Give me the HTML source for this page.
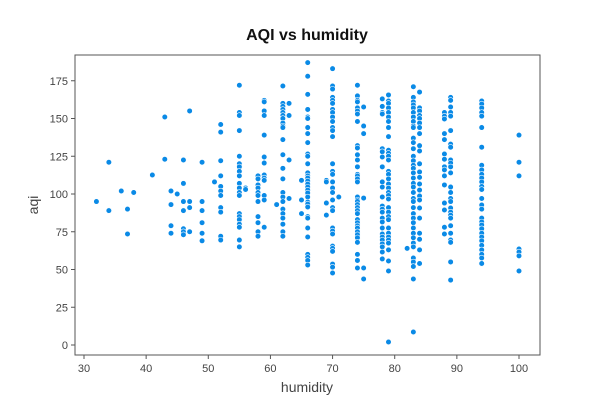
<!DOCTYPE html>
<html><head><meta charset="utf-8"><style>
body{margin:0;background:#fff;}
svg text{font-family:"Liberation Sans",sans-serif;}
</style></head><body>
<svg id="chart" width="600" height="400">
<rect width="600" height="400" fill="#fff"/>
<text x="307" y="40" text-anchor="middle" font-size="16" font-weight="bold" fill="#111">AQI vs humidity</text>
<text x="307" y="392" text-anchor="middle" font-size="14" fill="#444">humidity</text>
<text x="38" y="205" text-anchor="middle" font-size="14" fill="#444" transform="rotate(-90 38 205)">aqi</text>
<g id="grid"></g>
<g id="points"></g>
</svg>
<script>
const humLevels = [32,34,36,37,38,41,43,44,45,46,47,49,51,52,55,56,58,59,61,62,63,65,66,69,70,71,74,75,78,79,82,83,84,88,89,94,100];
const aqiByHum = [
[95],[121,89],[102],[90,73.5],[101],[112.6],[151,123],[102,93,79,74],[100],
[122.5,107,95,89,77,75,73],[155,95,91,75],[121,95,89,81,74,69],[108],
[146,141,122,112,105,102,99,91,88,72,69.5],
[172,154,152,142,125,120,118,115,112,107,104,101,99,87,85,83,80,78,69.5,65],
[104,103],
[112,110,106,104,101,99,95,85,81,75,72],
[162,161,155,152,139,124.5,120.5,112.6,110.6,109,99,96,78],
[93],
[171.5,160,158,156,154,152,150,147,145,144,136,126,117,110,101,98,95,90,87,84,80,75,72],
[160,152,122.5,97],[109,96,87],
[187,178,166,156,151,150,144,140,134,126.5,125,120,114,112,110.6,108.6,106.6,104.6,102.6,100.7,98,94.7,93.4,91.4,85,84,77.5,71.5,60,58,56,53],
[109,108,94,86],
[183,171.5,169.5,164,162,160,156,154,151,148,144,142,138,120,115,113,108,104,101,96,91,89,77.5,75.5,73.5,65.5,64,62,53.6,51.6,47.7],
[98],
[172,165,162,161,157,155,153,148,132,130.5,126,122.5,118,113,112,110,108,98,96,95,93,91,89,87,83,81,79,77.5,75,73,71,68,60,56,51],
[157.6,145,140,97.3,51,43.7],
[163,158,154,153,130,128,124.5,118,108,104.6,98,92,90,88,84,81.5,77.5,73.5,71.5,69.5,67,65,61.6,57],
[165.6,161.6,160,157,154,151,148,144,138,129,127,125,122.5,115,113,110,106.6,104,101,99,96.7,91,88,85,83,77.5,74,71.5,69.5,67.5,63,55.6,49,2],
[64],
[171,164,161,159,157,154,151,148,145,144,137,134,130,125,122,119,117,114,110.6,107,104.6,101,97,95,91,87,84,81,77.5,74,71,67.5,65,57.6,55,52,43.7,8.6],
[167.5,157,155,152,150,147,144,140,132,128.5,120,114.6,111,106.6,102.6,98.7,96,90.7,84,74,70,63,54],
[154,151.6,149.7,140,136,126.5,123,118,116,112,106,94,89.4,78,73.5],
[164,162,157.6,154,151.6,142,133,131,122.5,120.5,118,114,104.6,101,97,95,90.7,88,86,84,79,74,69.5,68,55,43],
[161.6,159.6,157,154,151.6,144,131,119,116,113,110.6,108,105,103,97,92.7,90,84,81.5,79.5,77,74,71.5,69,66,63,60,57.6,54],
[139,121,112,63.6,61.6,59,49]
];
const xTicks = [30,40,50,60,70,80,90,100];
const yTicks = [0,25,50,75,100,125,150,175];

const L=75,R=540,T=55,B=355;
const xS = v => 84 + (v-30)*(435/70);
const yS = v => 345 - v*1.51;
const NS="http://www.w3.org/2000/svg";
const svg=document.getElementById('chart');
const grid=document.getElementById('grid');
function mk(tag,attrs,parent){const e=document.createElementNS(NS,tag);for(const k in attrs)e.setAttribute(k,attrs[k]);parent.appendChild(e);return e;}
const frame=mk('rect',{x:L,y:T,width:R-L,height:B-T,fill:'none',stroke:'#555','stroke-width':1},grid);


xTicks.forEach(t=>{
  const x=xS(t);
  const ln=mk('line',{x1:x,x2:x,y1:B,y2:B+4,stroke:'#555'},grid);
  
  
  const tx=mk('text',{x:x,y:B+17,'text-anchor':'middle','font-size':11,fill:'#444'},grid);
  tx.textContent=t;
  
  
});
yTicks.forEach(t=>{
  const y=yS(t);
  const ln=mk('line',{x1:L-4,x2:L,y1:y,y2:y,stroke:'#555'},grid);
  
  
  const tx=mk('text',{x:L-7,y:y+4,'text-anchor':'end','font-size':11,fill:'#444'},grid);
  tx.textContent=t;
  
  
});
const pts=document.getElementById('points');
humLevels.forEach((h,i)=>{
  aqiByHum[i].forEach(a=>{
    const c=mk('circle',{cx:xS(h),cy:yS(a),r:2.8,fill:'#0a8ae6',stroke:'#fff','stroke-width':0.6},pts);
    
    
  });
});
</script>
</body></html>
